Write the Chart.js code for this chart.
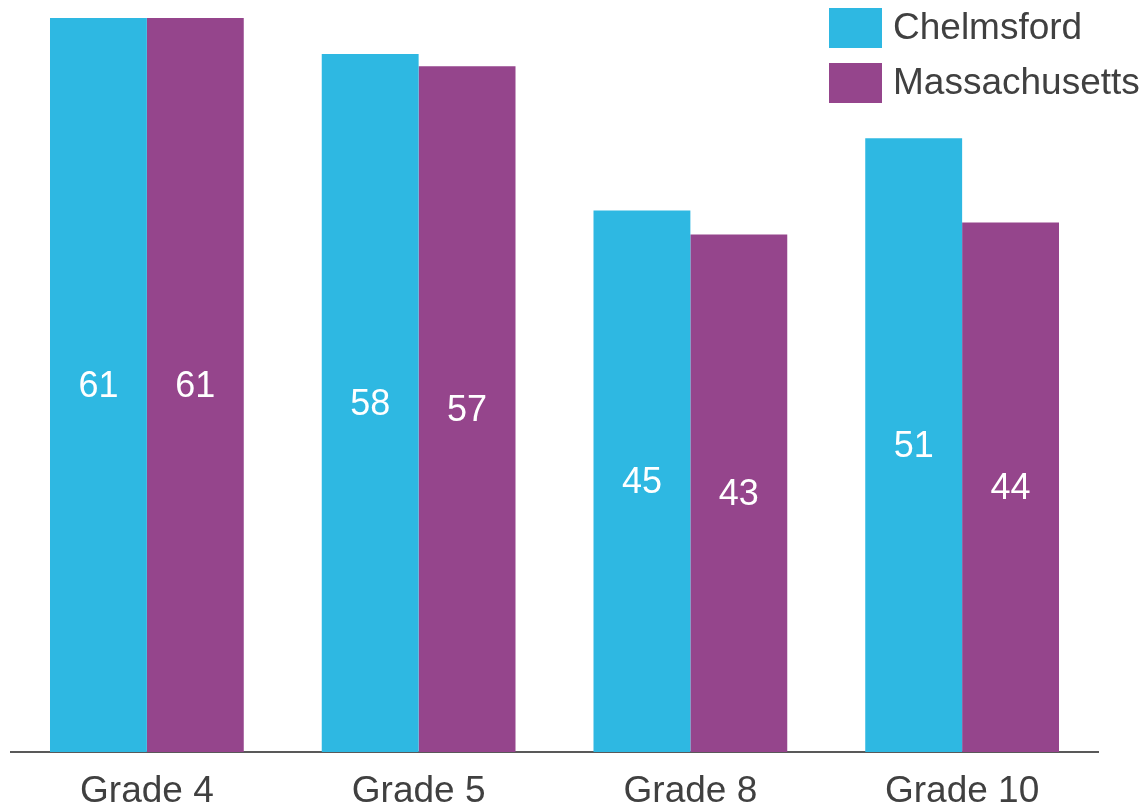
<!DOCTYPE html>
<html>
<head>
<meta charset="utf-8">
<title>Grade results</title>
<script src="https://cdn.jsdelivr.net/npm/chart.js@4/dist/chart.umd.min.js"></script>
<style>
  html, body { margin: 0; padding: 0; background: #fff; }
  #chart { display: block; }
</style>
</head>
<body>
<canvas id="chart" width="1143" height="804"></canvas>
<script>
'use strict';

// ── Data ──────────────────────────────────────────────────────
const grades = ['Grade 4', 'Grade 5', 'Grade 8', 'Grade 10'];
const chelmsford = [61, 58, 45, 51];
const massachusetts = [61, 57, 43, 44];

// ── Style ─────────────────────────────────────────────────────
const FONT = 'Arial, "Liberation Sans", Helvetica, sans-serif';
const CYAN = '#2EB8E2';
const PURPLE = '#95458C';
const TEXT = '#404040';

// Value in the middle of every bar
const barValues = {
  id: 'barValues',
  afterDatasetsDraw(chart) {
    const ctx = chart.ctx;
    ctx.save();
    ctx.font = `36px ${FONT}`;
    ctx.fillStyle = '#fff';
    ctx.textAlign = 'center';
    ctx.textBaseline = 'middle';
    chart.data.datasets.forEach((ds, i) => {
      chart.getDatasetMeta(i).data.forEach((bar, j) => {
        ctx.fillText(String(ds.data[j]), bar.x, (bar.y + bar.base) / 2 + 2);
      });
    });
    ctx.restore();
  }
};

// Legend box, top right, drawn over the plot
const cornerLegend = {
  id: 'cornerLegend',
  afterDraw(chart) {
    const ctx = chart.ctx;
    ctx.save();
    ctx.font = `37px ${FONT}`;
    ctx.textBaseline = 'middle';
    chart.data.datasets.forEach((ds, i) => {
      const y = 8 + i * 55;
      ctx.fillStyle = ds.backgroundColor;
      ctx.fillRect(829, y, 53, 40);
      ctx.fillStyle = TEXT;
      ctx.fillText(ds.label, 893, y + 21);
    });
    ctx.restore();
  }
};

new Chart(document.getElementById('chart'), {
  type: 'bar',
  data: {
    labels: grades,
    datasets: [
      { label: 'Chelmsford', data: chelmsford, backgroundColor: CYAN },
      { label: 'Massachusetts', data: massachusetts, backgroundColor: PURPLE }
    ]
  },
  options: {
    responsive: false,
    animation: false,
    layout: { padding: { left: 11, right: 45, top: 18, bottom: 0 } },
    datasets: { bar: { barPercentage: 1, categoryPercentage: 0.713 } },
    plugins: { legend: { display: false }, tooltip: { enabled: false } },
    scales: {
      x: {
        grid: { display: false },
        border: { display: true, color: '#595959', width: 2 },
        ticks: { color: TEXT, font: { family: FONT, size: 37 }, padding: 10, maxRotation: 0 },
        afterFit(scale) { scale.height = 52; }
      },
      y: { display: false, min: 0, max: 61 }
    }
  },
  plugins: [barValues, cornerLegend]
});
</script>
</body>
</html>
